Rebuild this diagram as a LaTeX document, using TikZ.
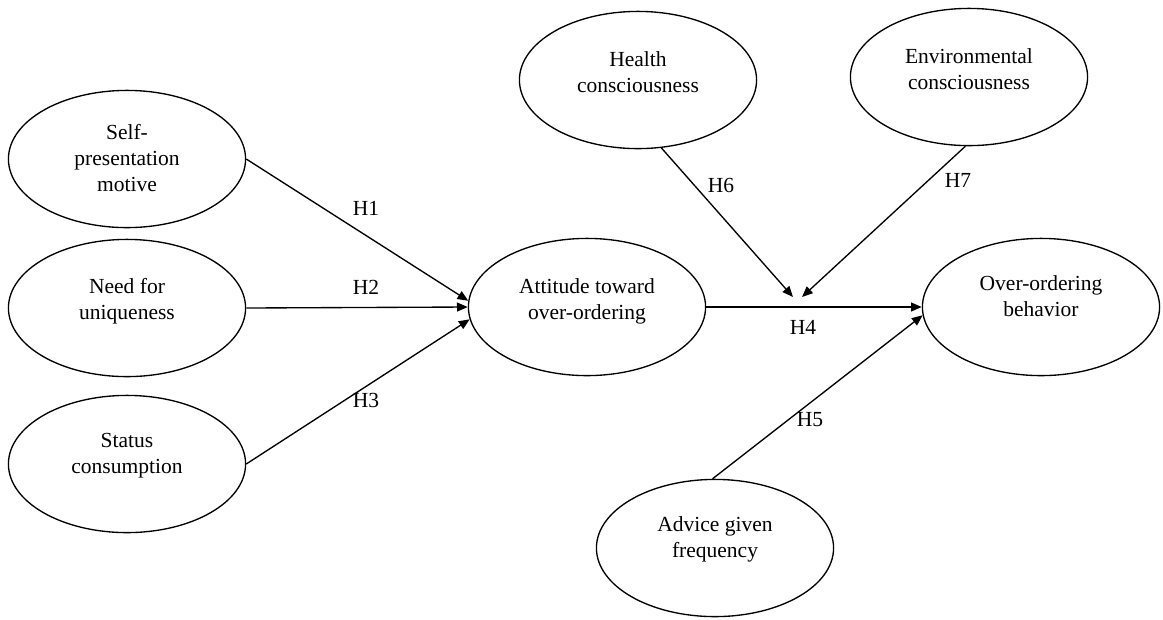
\documentclass[tikz,border=0pt]{standalone}
\usepackage{fontspec}
\setmainfont{Liberation Serif}
\usepackage{tikz}
\usetikzlibrary{shapes.geometric, arrows.meta}

\begin{document}
\begin{tikzpicture}[x=0.0196cm, y=-0.0196cm,
  every node/.style={font=\fontsize{12}{14.5}\selectfont},
  latent/.style={draw, ellipse, line width=0.75pt, minimum width=4.65cm, minimum height=2.69cm, inner sep=0pt},
  txt/.style={align=center, inner sep=0pt},
  hyp/.style={draw, line width=0.75pt, -{Triangle[length=6pt,width=5pt]}},
  hlab/.style={inner sep=0pt}]
  \useasboundingbox (0,0) rectangle (1163,619);
  % constructs
  \node[latent] (self) at (127,159) {};
  \node[latent] (need) at (127,308) {};
  \node[latent] (status) at (127,464) {};
  \node[latent] (att) at (587,307) {};
  \node[latent] (over) at (1041,307) {};
  \node[latent] (health) at (638,80) {};
  \node[latent] (env) at (969,77) {};
  \node[latent] (advice) at (715,548) {};
  \node[txt] (selfT) at (127,158) {Self-\\presentation\\motive};
  \node[txt] (needT) at (127,301) {Need for\\uniqueness};
  \node[txt] (statusT) at (127,456) {Status\\consumption};
  \node[txt] (attT) at (587,301) {Attitude toward\\over-ordering};
  \node[txt] (overT) at (1041,296) {Over-ordering\\behavior};
  \node[txt] (healthT) at (638,72) {Health\\consciousness};
  \node[txt] (envT) at (969,69) {Environmental\\consciousness};
  \node[txt] (adviceT) at (715,539) {Advice given\\frequency};
  % paths
  \draw[hyp] (self.east) -- (att.177);
  \draw[hyp] (need.east) -- (att.west);
  \draw[hyp] (status.east) -- (att.186);
  \draw[hyp] (att.east) -- (over.west);
  \coordinate (h6end) at (793,297);
  \coordinate (h7end) at (802,297);
  \draw[hyp] (health.-71) -- (h6end);
  \draw[hyp] (env.-93) -- (h7end);
  \draw[hyp] (advice.92) -- (over.184);
  % labels
  \node[hlab] (h1) at (366,208) {H1};
  \node[hlab] (h2) at (366,287) {H2};
  \node[hlab] (h3) at (366,400) {H3};
  \node[hlab] (h4) at (803,327) {H4};
  \node[hlab] (h5) at (810,420) {H5};
  \node[hlab] (h6) at (721,185) {H6};
  \node[hlab] (h7) at (958,180) {H7};
\end{tikzpicture}
\end{document}
